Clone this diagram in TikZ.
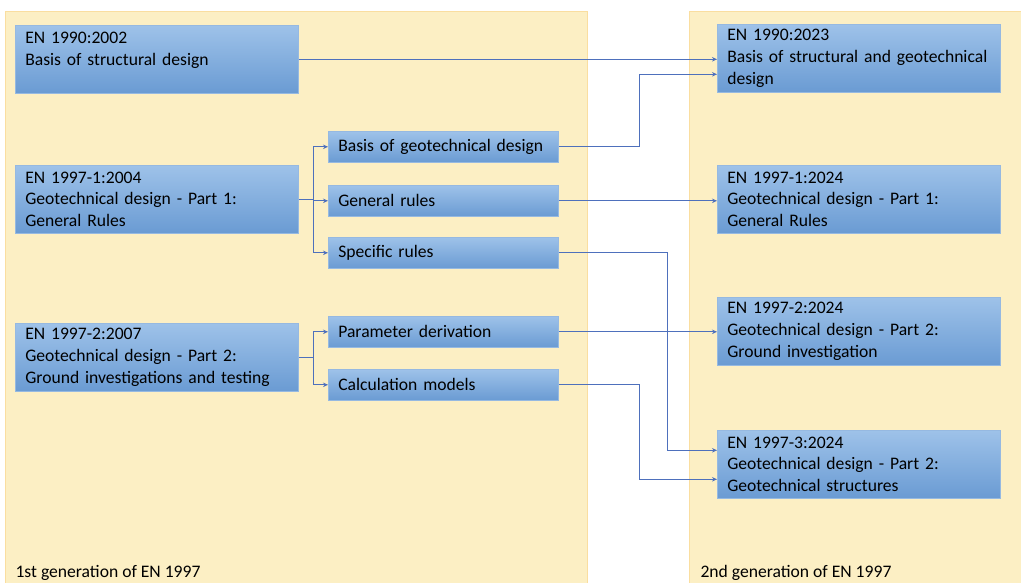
\documentclass[tikz,border=0pt]{standalone}
\usepackage{fontspec}
\setmainfont{Carlito}
\usepackage{tikz}
\usetikzlibrary{arrows.meta, calc, positioning}
\definecolor{panelfill}{RGB}{252,239,196}
\definecolor{panelline}{RGB}{250,222,160}
\definecolor{boxtop}{RGB}{158,194,233}
\definecolor{boxbot}{RGB}{106,155,211}
\definecolor{boxline}{RGB}{150,185,225}
\definecolor{linkcol}{RGB}{78,112,188}

\begin{document}
\begin{tikzpicture}[x=1pt,y=-1pt,
    font=\fontsize{17.6}{21.6}\selectfont,
    docbox/.style={draw=boxline, line width=0.6pt, top color=boxtop, bottom color=boxbot,
        anchor=north west, align=left, inner xsep=10pt, inner ysep=0pt,
        text width=263pt, minimum height=68pt},
    partbox/.style={docbox, text width=210pt, minimum height=31pt},
    link/.style={draw=linkcol, line width=1.1pt, -{Stealth[length=5pt,width=4.5pt]}}]
    \useasboundingbox (0,0) rectangle (1021,583);
    % generations
    \filldraw[fill=panelfill, draw=panelline, line width=1pt] (5,12) rectangle (587,600);
    \filldraw[fill=panelfill, draw=panelline, line width=1pt] (689,12) rectangle (1030,600);
    \node[anchor=base west] (gen1) at (12,577) {1st generation of EN 1997};
    \node[anchor=base west] (gen2) at (697,577) {2nd generation of EN 1997};

    % 1st generation documents
    \node[docbox] (old1990) at (15,25) {EN 1990:2002\\Basis of structural design\\\mbox{}};
    \node[docbox] (old19971) at (15,165) {EN 1997-1:2004\\Geotechnical design - Part 1:\\General Rules};
    \node[docbox] (old19972) at (15,323) {EN 1997-2:2007\\Geotechnical design - Part 2:\\Ground investigations and testing};

    % parts of the old documents
    \node[partbox] (basisgeo) at (328,131) {Basis of geotechnical design};
    \node[partbox] (genrules) at (328,185) {General rules};
    \node[partbox] (specrules) at (328,237) {Specific rules};
    \node[partbox] (paramder) at (328,316) {Parameter derivation};
    \node[partbox] (calcmod) at (328,369) {Calculation models};

    % 2nd generation documents
    \node[docbox] (new1990) at (717,24) {EN 1990:2023\\Basis of structural and geotechnical\\design};
    \node[docbox] (new19971) at (717,165) {EN 1997-1:2024\\Geotechnical design - Part 1:\\General Rules};
    \node[docbox] (new19972) at (717,297) {EN 1997-2:2024\\Geotechnical design - Part 2:\\Ground investigation};
    \node[docbox] (new19973) at (717,430) {EN 1997-3:2024\\Geotechnical design - Part 2:\\Geotechnical structures};

    % splitting the old documents
    \coordinate (split1) at ($(old19971.east)+(15,0)$);
    \coordinate (split2) at ($(old19972.east)+(15,0)$);
    \draw[linkcol, line width=1.1pt] (old19971.east) -- (split1);
    \draw[link] (split1) |- (basisgeo.west);
    \draw[link] (split1) -- (split1 |- genrules.west) -- (genrules.west);
    \draw[link] (split1) |- (specrules.west);
    \draw[linkcol, line width=1.1pt] (old19972.east) -- (split2);
    \draw[link] (split2) |- (paramder.west);
    \draw[link] (split2) |- (calcmod.west);

    % into the new documents
    \draw[link] (old1990.east) -- (old1990.east -| new1990.west);
    \draw[link] (basisgeo.east) -- ++(81,0) |- ([yshift=-16pt]new1990.west);
    \draw[link] (genrules.east) -- (genrules.east -| new19971.west);
    \draw[link] (specrules.east) -- ++(109,0) |- ([yshift=14pt]new19973.west);
    \draw[link] (paramder.east) -- (paramder.east -| new19972.west);
    \draw[link] (calcmod.east) -- ++(81,0) |- ([yshift=-15pt]new19973.west);
\end{tikzpicture}
\end{document}
